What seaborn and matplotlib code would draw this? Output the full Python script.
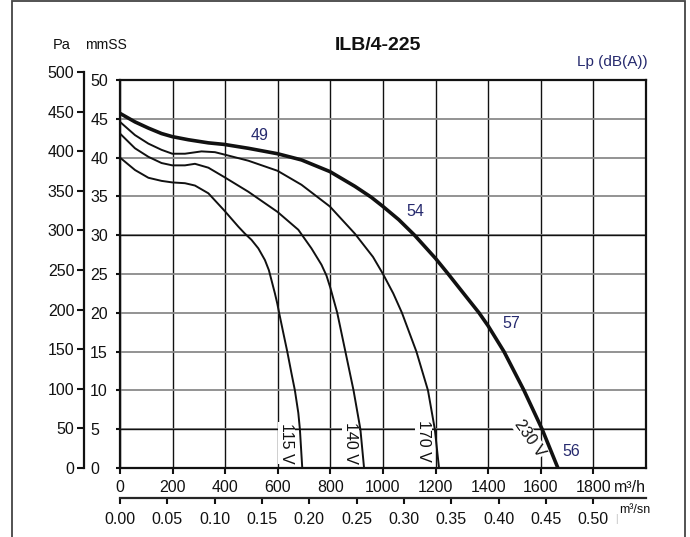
import numpy as np
import pandas as pd
import seaborn as sns
import matplotlib.pyplot as plt
from matplotlib.patches import Rectangle
from matplotlib.ticker import FuncFormatter

# fan curves: flow m3/h, pressure Pa
flow_115 = [0, 57, 108, 158, 199, 247, 285, 336, 396, 450, 475, 500, 526, 551, 566, 576, 589,
            598, 605, 621, 636, 652, 665, 678, 684, 693]
pa_115 = [400, 384, 374, 370, 368, 367, 364, 354, 332, 311, 302, 294, 283, 268, 255, 242, 225,
          212, 200, 174, 150, 122, 100, 71, 50, 0]

flow_140 = [0, 57, 108, 158, 199, 247, 285, 336, 396, 488, 599, 678, 728, 766, 785, 800, 826,
            857, 888, 914, 928]
pa_140 = [431, 412, 401, 393, 390, 390, 392, 387, 375, 356, 330, 307, 283, 262, 248, 232, 200,
          150, 100, 50, 0]

flow_170 = [0, 57, 108, 158, 199, 247, 310, 361, 396, 488, 599, 690, 798, 893, 962, 1000, 1039,
            1072, 1127, 1171, 1197, 1213]
pa_170 = [446, 429, 418, 410, 405, 405, 408, 407, 404, 396, 383, 365, 337, 302, 272, 250, 225,
          200, 150, 100, 50, 0]

flow_230 = [0, 57, 108, 158, 199, 260, 336, 396, 488, 599, 690, 798, 893, 955, 1000, 1060, 1120,
            1200, 1248, 1304, 1365, 1400, 1460, 1536, 1605, 1665]
pa_230 = [457, 446, 438, 431, 427, 423, 419, 417, 412, 405, 397, 382, 363, 349, 337, 320, 300,
          270, 250, 226, 200, 183, 150, 100, 50, 0]

voltages = ["115 V", "140 V", "170 V", "230 V"]
volt_label_xy = [(633, 32), (876, 32), (1155, 35), (1558, 38)]
volt_label_rot = [-90, -90, -90, -55]

db_values = ["49", "54", "57", "56"]
db_xy = [(529, 428), (1121, 330), (1488, 186), (1716, 21)]

x_ticks = list(range(0, 2000, 200))
y_ticks = list(range(0, 501, 50))
ms_ticks = [0.00, 0.05, 0.10, 0.15, 0.20, 0.25, 0.30, 0.35, 0.40, 0.45, 0.50]
black_grid = [50, 300]

frames = []
for v, fx, fy in zip(voltages, [flow_115, flow_140, flow_170, flow_230],
                     [pa_115, pa_140, pa_170, pa_230]):
    frames.append(pd.DataFrame({"flow": fx, "pa": fy, "voltage": v}))
df = pd.concat(frames, ignore_index=True)

sns.set_style("white")
plt.rcParams['font.family'] = ['Liberation Sans', 'DejaVu Sans']

fig = plt.figure(figsize=(6.9, 5.37), dpi=100)
ax = fig.add_axes([120/690, 1-468/537, 526/690, 388/537])

sns.lineplot(data=df, x="flow", y="pa", hue="voltage", size="voltage",
             palette=["#111111"]*4, sizes=[1.4, 1.4, 1.4, 2.6],
             sort=False, estimator=None, legend=False, ax=ax, zorder=4,
             solid_joinstyle="round", solid_capstyle="butt")

ax.set_xlim(0, 2000)
ax.set_ylim(0, 500)
ax.set_xticks(x_ticks)
ax.set_yticks(y_ticks)
ax.yaxis.set_major_formatter(FuncFormatter(lambda v, p: f"{int(v/10)}"))
ax.set_xlabel("")
ax.set_ylabel("")

ax.grid(axis="x", color="#111111", lw=1.0, zorder=1)
ax.grid(axis="y", color="#8a8a8a", lw=1.3, zorder=1)
ax.set_axisbelow(True)
for v in black_grid:
    ax.axhline(v, color="#111111", lw=1.0, zorder=1.5)

for s in ax.spines.values():
    s.set_linewidth(1.6)
    s.set_color("#111111")

ax.tick_params(axis="x", direction="out", length=4, width=1.5, pad=5, labelsize=11.5,
               bottom=True, colors="#111111")
ax.tick_params(axis="y", direction="out", length=3, width=1.5, pad=18.5, labelsize=11.5,
               left=True, colors="#111111")
for lab in ax.get_yticklabels():
    lab.set_horizontalalignment("left")

# second flow axis in m3/s
sec = ax.secondary_xaxis(-30/388, functions=(lambda x: x/3600, lambda x: x*3600))
sec.set_xticks(ms_ticks)
sec.xaxis.set_major_formatter(FuncFormatter(lambda v, p: f"{v:.2f}"))
sec.spines["bottom"].set_linewidth(1.6)
sec.tick_params(direction="out", length=4, width=1.5, pad=6, labelsize=11.5, colors="#111111")

# Pa axis
axp = fig.add_axes([84/690, 1-468/537, 0.0001, 396/537])
axp.set_ylim(0, 500)
axp.set_yticks(y_ticks)
axp.set_xticks([])
for k in ["top", "right", "bottom"]:
    axp.spines[k].set_visible(False)
axp.spines["left"].set_linewidth(1.6)
axp.spines["left"].set_color("#111111")
axp.patch.set_visible(False)
axp.tick_params(axis="y", direction="out", length=5, width=1.5, pad=2, labelsize=11.5,
                left=True, colors="#111111")

# voltage labels
for v, (x, y), r in zip(voltages, volt_label_xy, volt_label_rot):
    ax.text(x, y, v, rotation=r, ha="center", va="center", fontsize=11.5, color="#111111",
            rotation_mode="anchor", zorder=3,
            bbox=dict(boxstyle="square,pad=0.05", fc="white", ec="none"))

# noise level labels
for t, (x, y) in zip(db_values, db_xy):
    ax.text(x, y, t, ha="center", va="center", fontsize=11.5, color="#262a6e", zorder=5)

fig.text(378/690, 1-45/537, "ILB/4-225", ha="center", va="center", fontsize=14,
         fontweight="bold", color="#111111")
fig.text(62/690, 1-45/537, "Pa", ha="center", va="center", fontsize=10.5, color="#111111")
fig.text(85/690, 1-45/537, "mmSS", ha="left", va="center", fontsize=10, color="#111111")
fig.text(648/690, 1-62/537, "Lp (dB(A))", ha="right", va="center", fontsize=11,
         color="#262a6e")
fig.text(614/690, 1-488/537, "m³/h", ha="left", va="center", fontsize=11.5, color="#111111")
fig.text(619/690, 1-510/537, "m³/sn", ha="left", va="center", fontsize=9, color="#111111")
fig.text(616/690, 1-519/537, "|", ha="center", va="center", fontsize=7, color="#bbbbbb")

fig.add_artist(Rectangle((12/690, -0.05), 673/690, 1.05 - 1/537, transform=fig.transFigure,
                         fill=False, ec="#444444", lw=1.3))

fig.savefig("out.png", dpi=100)
